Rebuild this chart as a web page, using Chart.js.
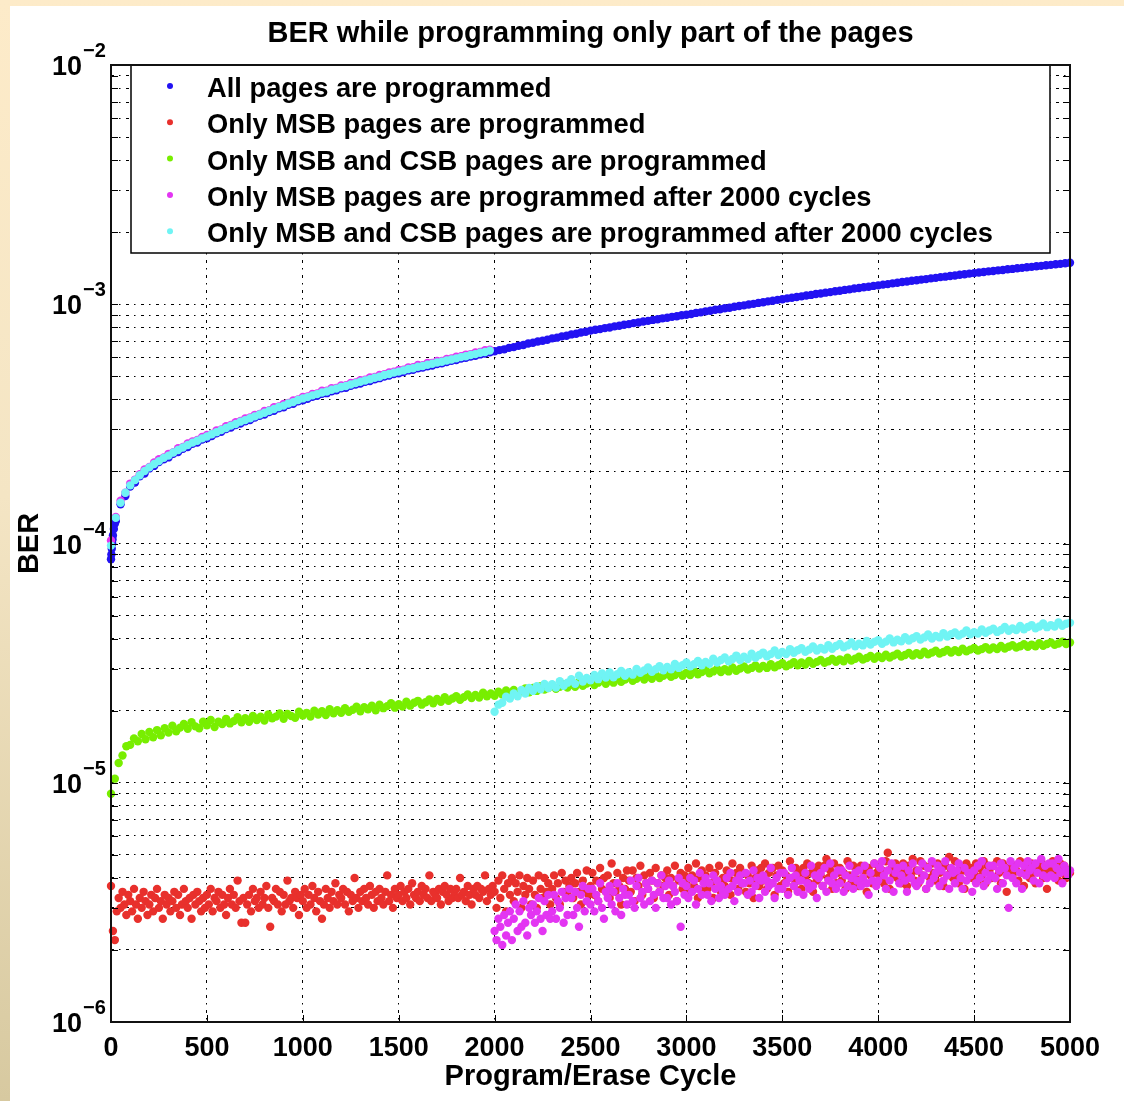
<!DOCTYPE html>
<html>
<head>
<meta charset="utf-8">
<script src="https://cdn.jsdelivr.net/npm/chart.js@4.4.1/dist/chart.umd.min.js"></script>
<style>
  html, body { margin: 0; padding: 0; }
  body {
    width: 1124px; height: 1101px; overflow: hidden;
    background: linear-gradient(to bottom, #fdebc9 0%, #f4e5c4 45%, #d7c9a0 100%);
  }
  canvas { display: block; }
</style>
</head>
<body>
<canvas id="ber" width="1124" height="1101"></canvas>
<script>
// ---- text ----
const TITLE = 'BER while programming only part of the pages';
const X_TITLE = 'Program/Erase Cycle';
const Y_TITLE = 'BER';
const SERIES_NAMES = [
  'All pages are programmed',
  'Only MSB pages are programmed',
  'Only MSB and CSB pages are programmed',
  'Only MSB pages are programmed after 2000 cycles',
  'Only MSB and CSB pages are programmed after 2000 cycles'
];

// ---- axes ----
const X_TICKS = [0, 500, 1000, 1500, 2000, 2500, 3000, 3500, 4000, 4500, 5000];
const Y_DECADES = [-6, -5, -4, -3, -2];

// ---- values ----
// BER values are stored in units of 1e-6 (PPM) or 1e-7 (TENTH_PPM)
const PPM = 1e-6;
const TENTH_PPM = 1e-7;

// All pages: first cycles, then every 25 cycles from 25 to 5000
const ALL_EARLY_CYCLES = [0, 2, 4, 6, 8, 10, 15, 20];
const ALL_EARLY_BER = [86, 90, 95, 100, 104, 108, 115, 121];
const ALL_BER = [
  124,146,158,173,180,191,196,206,211,219,
  225,229,237,241,249,253,261,264,272,275,
  281,289,293,301,305,313,317,324,328,336,
  342,346,354,359,367,371,380,384,393,397,
  403,410,414,422,425,433,437,445,448,456,
  462,466,474,478,486,491,499,503,511,515,
  521,529,532,540,544,551,555,563,566,574,
  580,584,593,597,605,609,617,622,630,636,
  643,648,657,662,671,676,685,690,699,704,
  711,720,725,734,739,748,753,762,767,776,
  782,787,795,800,808,813,821,826,834,839,
  847,852,860,865,873,878,886,891,899,904,
  911,920,925,934,939,948,953,962,967,976,
  983,989,998,1004,1013,1019,1028,1034,1043,1049,
  1058,1064,1073,1079,1088,1094,1103,1109,1118,1124,
  1133,1139,1148,1154,1163,1169,1178,1184,1193,1199,
  1208,1214,1223,1229,1238,1244,1253,1259,1268,1274,
  1283,1289,1298,1304,1313,1319,1328,1334,1343,1349,
  1358,1363,1372,1377,1386,1391,1400,1405,1414,1419,
  1428,1433,1442,1447,1456,1461,1470,1475,1484,1491
];

// Only MSB: every 10 cycles from 0 to 5000 (units of 1e-7)
const MSB_BER = [
  37,24,22,29,33,30,35,31,28,34, 32,29,36,31,27,33,30,35,32,28,
  31,34,29,33,36,30,32,27,34,31, 33,29,32,35,30,34,28,31,36,32,
  30,33,27,34,31,35,32,29,33,30, 34,31,36,29,33,32,35,30,34,31,
  28,33,36,31,34,30,39,32,26,33, 26,31,34,29,36,32,33,30,35,31,
  33,37,30,25,33,32,36,31,35,29, 34,31,39,32,33,30,35,33,28,34,
  32,36,30,34,31,37,33,29,35,32, 27,31,36,33,30,35,32,38,31,34,
  33,36,31,35,29,34,32,40,33,30, 35,32,36,33,31,37,34,30,35,32,
  36,33,31,35,41,32,34,30,36,33, 34,37,32,35,33,36,31,38,34,33,
  35,32,37,34,36,33,41,32,35,34, 33,36,31,35,37,34,32,36,33,35,
  36,33,40,34,35,32,37,34,31,36, 34,37,33,36,35,41,32,36,34,37,
  35,30,39,33,41,36,29,38,34,40, 32,38,35,41,30,37,34,40,36,31,
  39,34,30,41,36,33,40,35,38,31, 36,41,33,38,31,42,35,39,34,37,
  40,33,38,42,35,31,39,36,43,34, 37,42,34,39,32,44,36,40,35,41,
  33,46,38,35,42,37,31,40,36,43, 39,35,43,32,40,37,45,34,41,38,
  36,42,39,33,44,38,35,41,37,40, 43,34,40,37,45,32,39,42,36,41,
  38,44,35,41,37,46,33,40,43,36, 41,36,44,38,33,42,39,45,35,40,
  37,43,40,34,46,39,42,36,44,38, 42,35,41,38,45,33,40,43,37,44,
  39,46,36,42,38,44,34,41,45,37, 43,38,41,35,47,40,37,44,39,42,
  36,44,40,46,38,42,35,43,39,45, 41,37,45,48,40,43,36,46,38,42,
  44,39,42,36,47,41,38,45,40,43, 37,45,40,43,35,44,41,38,46,42,
  45,40,43,38,47,51,36,44,41,46, 40,44,38,46,42,37,45,41,48,39,
  43,38,47,41,45,36,44,40,46,42, 39,46,42,44,37,45,41,49,43,40,
  47,41,38,45,43,36,46,42,44,40, 42,46,39,44,41,47,38,45,43,40,
  45,40,47,42,38,46,43,35,44,41, 41,45,43,39,47,42,37,46,44,40,
  46,42,38,45,43,47,40,44,36,42, 43,47,41,44,39,46,42,45,40,43,
  42
];

// Only MSB and CSB: every 20 cycles from 0 to 5000 (units of 1e-6)
const MSB_CSB_BER = [
  9.0,10.4,12.1,13.0,14.2, 14.4,15.3,14.9,16.0,15.2,
  16.3,15.5,16.6,15.8,16.9, 16.2,17.3,16.4,17.0,17.6,
  16.8,17.9,17.2,16.9,18.0, 17.4,18.3,17.1,18.0,17.6,
  18.5,17.7,18.1,18.8,17.9, 18.6,18.0,19.0,18.3,18.9,
  18.2,19.3,18.6,18.9,19.5, 18.5,19.4,19.0,18.7,19.8,
  19.1,19.6,18.9,20.0,19.3, 19.9,19.2,20.3,19.5,20.1,
  19.6,20.5,19.8,20.2,20.8, 19.9,20.7,20.3,21.0,20.1,
  21.2,20.5,20.9,21.5,20.6, 21.3,20.8,21.8,21.0,21.6,
  22.0,21.2,21.7,22.3,21.5, 22.4,21.8,22.8,22.0,22.5,
  23.0,22.2,22.8,23.4,22.6, 23.3,22.7,23.8,23.0,23.6,
  23.1,24.0,23.4,24.3,23.6, 24.4,23.7,24.1,24.8,23.9,
  24.9,24.2,25.3,24.5,24.9, 25.5,24.7,25.2,25.8,25.0,
  25.7,25.2,26.3,25.4,26.0, 26.5,25.6,26.2,26.9,25.9,
  26.8,26.2,27.3,26.4,27.0, 27.6,26.7,27.2,27.9,27.0,
  27.8,27.2,28.3,27.4,28.0, 28.6,27.7,28.2,28.9,28.0,
  28.8,28.2,29.3,28.4,29.0, 29.6,28.7,29.2,29.9,29.0,
  29.8,29.2,30.3,29.4,30.0, 30.6,29.7,30.2,30.9,30.0,
  30.8,30.2,31.3,30.4,31.0, 31.6,30.7,31.2,31.9,31.0,
  31.8,31.2,32.3,31.4,32.0, 32.6,31.7,32.2,32.9,32.0,
  32.8,32.2,33.3,32.4,33.0, 33.6,32.7,33.2,33.9,33.0,
  33.8,33.2,34.3,33.4,34.0, 34.6,33.7,34.2,34.9,34.0,
  34.8,34.2,35.3,34.4,35.0, 35.6,34.7,35.2,35.9,35.0,
  35.8,35.2,36.3,35.4,36.0, 36.6,35.7,36.2,36.9,36.0,
  36.8,36.2,37.3,36.4,37.0, 37.6,36.7,37.2,37.9,37.0,
  37.8,37.2,38.3,37.4,38.0, 38.6,37.7,38.2,38.9,38.0,
  38.6
];

// Only MSB after 2000 cycles: every 25 cycles from 0 to 1975 (units of 1e-6)
const MSB_2000_EARLY = [
  103,129,151,163,178,185,195,204,209,218,
  225,229,237,241,250,253,262,267,271,279,
  284,287,297,300,309,313,321,325,333,336,
  345,348,358,361,371,374,383,387,396,400,
  410,412,422,424,435,435,446,447,458,459,
  469,471,481,484,494,497,506,510,519,522,
  531,533,544,545,557,556,568,569,580,580,
  591,593,603,606,616,619,629,632,642,645
];
// ... then every 10 cycles from 2000 to 5000 (units of 1e-7)
const MSB_2000_LATE = [
  24,22,27,25,21,28,23,26,29,22, 27,31,24,29,25,32,26,23,30,28,
  31,26,29,33,27,24,32,28,34,27, 29,34,27,32,30,35,26,33,28,36,
  33,28,35,30,25,34,37,29,32,36, 31,36,29,34,32,38,30,27,35,33,
  37,31,35,29,38,33,28,36,34,31, 34,39,32,30,37,40,33,35,31,38,
  36,32,39,34,30,38,35,41,33,37, 33,39,31,37,35,32,40,25,38,34,
  37,33,40,35,39,31,36,42,34,38, 40,34,38,32,41,36,39,33,37,35,
  34,40,36,42,37,32,39,35,41,38, 38,42,34,39,35,43,37,40,33,39,
  41,35,39,37,44,38,33,40,36,42, 36,42,38,34,40,44,37,41,35,39,
  39,34,42,38,36,45,37,41,33,40, 42,37,44,35,39,46,38,41,36,43,
  38,43,35,41,37,45,40,36,42,39, 43,37,40,45,38,34,42,39,46,37,
  39,44,47,41,36,43,39,46,35,42, 44,38,41,45,39,35,43,40,46,38,
  37,43,39,46,41,36,44,38,47,40, 42,45,37,43,39,47,41,36,44,42,
  38,43,46,40,36,44,39,42,41,35, 43,38,45,40,47,37,42,39,45,41,
  45,40,36,43,46,38,44,41,30,47, 40,44,38,46,42,36,45,41,47,43,
  44,39,46,42,38,48,41,45,40,46, 41,46,40,44,48,42,38,45,43,41,
  43
];

// Only MSB and CSB after 2000 cycles: every 25 cycles from 0 to 1975 (units of 1e-6)
const MSB_CSB_2000_EARLY = [
  98,128,148,163,175,184,193,201,208,215,
  221,228,233,240,246,252,258,264,269,275,
  280,286,292,298,304,311,316,323,328,334,
  340,346,352,359,365,372,377,385,390,398,
  404,409,416,421,428,432,439,444,451,455,
  462,468,474,480,486,493,498,506,511,518,
  523,529,536,540,548,552,559,564,571,575,
  582,588,594,601,606,614,619,627,632,640
];
// ... then every 20 cycles from 2000 to 5000 (units of 1e-6)
const MSB_CSB_2000_LATE = [
  19.8,21.2,21.6,22.9,22.5, 23.6,23.0,24.4,23.6,24.9,
  24.2,25.3,24.6,25.9,24.9, 25.8,25.0,26.6,25.4,26.2,
  27.1,25.9,28.0,26.5,27.4, 26.8,28.2,27.1,28.6,27.5,
  28.9,27.6,28.4,29.3,28.0, 29.0,28.3,29.9,28.8,29.5,
  30.3,29.1,29.8,30.7,29.5, 30.5,29.8,31.4,30.2,31.0,
  31.8,30.7,31.3,32.3,31.0, 32.0,31.4,33.0,31.8,32.6,
  33.4,32.2,32.9,34.0,32.6, 33.6,32.9,34.6,33.3,34.2,
  35.0,33.8,34.5,35.7,34.2, 35.2,34.5,36.2,34.9,35.8,
  36.5,35.3,36.0,37.1,35.7, 36.6,36.0,37.6,36.3,37.3,
  38.0,36.8,37.5,38.6,37.2, 38.1,37.5,39.1,37.8,38.8,
  39.4,38.1,38.9,40.1,38.6, 39.6,39.0,40.6,39.3,40.2,
  41.0,39.7,40.5,41.7,40.1, 41.1,40.5,42.2,40.8,41.8,
  42.5,41.2,42.0,43.3,41.7, 42.6,42.0,43.7,42.3,43.3,
  44.0,42.7,43.5,44.8,43.2, 44.1,43.5,45.2,43.8,44.8,
  45.6,44.2,45.0,46.3,44.7, 45.6,45.0,46.8,45.3,46.2,
  46.6
];

// ---- styles ----
const COLORS = ['#2212f2', '#e8302c', '#78ee00', '#e335f2', '#70f4f4'];
const FONT = '"Liberation Sans", Arial, Helvetica, sans-serif';
const TICK_FONT = 'bold 27px ' + FONT;
const LEGEND_FONT = 'bold 27.3px ' + FONT;
const LABEL_FONT = 'bold 29px ' + FONT;
const SUP_FONT = 'bold 20px ' + FONT;
const GRID_DASH = [3, 5, 1.5, 5.5];
const MARKER_RADIUS = 4.2;

// ---- helpers ----
function steps(from, to, step) {
  const out = [];
  for (let c = from; c <= to; c += step) out.push(c);
  return out;
}
function pairs(cycles, values, unit) {
  return values.map((v, i) => ({ x: cycles[i], y: v * unit }));
}

const Y_GRID = [];
for (let e = -6; e < -2; e++) {
  for (let m = 1; m <= 9; m++) Y_GRID.push(m * Math.pow(10, e));
}
Y_GRID.push(1e-2);

const datasets = [
  {
    label: SERIES_NAMES[0],
    data: pairs(ALL_EARLY_CYCLES.concat(steps(25, 5000, 25)), ALL_EARLY_BER.concat(ALL_BER), PPM),
    order: 5
  },
  { label: SERIES_NAMES[1], data: pairs(steps(0, 5000, 10), MSB_BER, TENTH_PPM), order: 4 },
  { label: SERIES_NAMES[2], data: pairs(steps(0, 5000, 20), MSB_CSB_BER, PPM), order: 3 },
  {
    label: SERIES_NAMES[3],
    data: pairs(steps(0, 1975, 25), MSB_2000_EARLY, PPM)
      .concat(pairs(steps(2000, 5000, 10), MSB_2000_LATE, TENTH_PPM)),
    order: 2
  },
  {
    label: SERIES_NAMES[4],
    data: pairs(steps(0, 1975, 25), MSB_CSB_2000_EARLY, PPM)
      .concat(pairs(steps(2000, 5000, 20), MSB_CSB_2000_LATE, PPM)),
    order: 1
  }
].map((ds, i) => Object.assign(ds, {
  backgroundColor: COLORS[i],
  borderColor: COLORS[i],
  pointRadius: MARKER_RADIUS,
  pointHoverRadius: MARKER_RADIUS,
  pointBorderWidth: 0,
  showLine: false,
  clip: false
}));

// Axes box, inward ticks, tick labels, titles and the boxed legend
const decorations = {
  id: 'decorations',
  beforeDraw(chart) {
    const { ctx } = chart;
    ctx.save();
    ctx.fillStyle = '#ffffff';
    ctx.fillRect(10, 6, chart.width - 10, chart.height - 6);
    ctx.restore();
  },
  afterDraw(chart) {
    const { ctx, chartArea: a, scales: { x, y } } = chart;
    ctx.save();

    // inward tick marks on all four sides
    ctx.strokeStyle = '#000';
    ctx.lineWidth = 1;
    ctx.beginPath();
    Y_GRID.forEach(v => {
      const py = Math.round(y.getPixelForValue(v)) + 0.5;
      ctx.moveTo(a.left, py); ctx.lineTo(a.left + 7, py);
      ctx.moveTo(a.right, py); ctx.lineTo(a.right - 7, py);
    });
    X_TICKS.forEach(v => {
      const px = Math.round(x.getPixelForValue(v)) + 0.5;
      ctx.moveTo(px, a.bottom); ctx.lineTo(px, a.bottom - 7);
      ctx.moveTo(px, a.top); ctx.lineTo(px, a.top + 7);
    });
    ctx.stroke();

    // legend box
    const lx = a.left + 20, ly = a.top, lw = 919, lh = 188;
    ctx.fillStyle = '#fff';
    ctx.fillRect(lx, ly, lw, lh);
    ctx.lineWidth = 1.5;
    ctx.strokeStyle = '#000';
    ctx.strokeRect(lx, ly, lw, lh);
    ctx.font = LEGEND_FONT;
    ctx.textAlign = 'left';
    ctx.textBaseline = 'alphabetic';
    chart.data.datasets.forEach((ds, i) => {
      const base = ly + 32 + i * 36.3;
      ctx.fillStyle = ds.backgroundColor;
      ctx.beginPath();
      ctx.arc(lx + 39, base - 11, 3, 0, Math.PI * 2);
      ctx.fill();
      ctx.fillStyle = '#000';
      ctx.fillText(ds.label, lx + 76, base);
    });

    // axes box
    ctx.lineWidth = 2;
    ctx.strokeStyle = '#111';
    ctx.strokeRect(a.left, a.top, a.right - a.left, a.bottom - a.top);

    // x tick labels
    ctx.fillStyle = '#000';
    ctx.font = TICK_FONT;
    ctx.textAlign = 'center';
    X_TICKS.forEach(v => ctx.fillText(String(v), x.getPixelForValue(v), a.bottom + 34));

    // y tick labels: 10 with a superscript exponent
    Y_DECADES.forEach(e => {
      const py = y.getPixelForValue(Math.pow(10, e));
      const base = py + 10;
      ctx.font = TICK_FONT;
      ctx.textAlign = 'right';
      ctx.fillText('10', a.left - 29, base);
      ctx.font = SUP_FONT;
      ctx.textAlign = 'left';
      ctx.fillText('\u2212' + Math.abs(e), a.left - 28, base - 18);
    });

    // titles
    const cx = (a.left + a.right) / 2;
    ctx.font = LABEL_FONT;
    ctx.textAlign = 'center';
    ctx.fillText(TITLE, cx, 42);
    ctx.fillText(X_TITLE, cx, a.bottom + 63);
    ctx.save();
    ctx.translate(38, (a.top + a.bottom) / 2);
    ctx.rotate(-Math.PI / 2);
    ctx.fillText(Y_TITLE, 0, 0);
    ctx.restore();

    ctx.restore();
  }
};

const gridStyle = { color: '#000', lineWidth: 1, drawTicks: false };

new Chart(document.getElementById('ber'), {
  type: 'scatter',
  data: { datasets },
  options: {
    responsive: false,
    animation: false,
    devicePixelRatio: 1,
    events: [],
    layout: { padding: { top: 65, right: 54, left: 0, bottom: 0 } },
    plugins: {
      legend: { display: false },
      tooltip: { enabled: false },
      title: { display: false }
    },
    scales: {
      x: {
        type: 'linear',
        min: 0,
        max: 5000,
        afterBuildTicks: s => { s.ticks = X_TICKS.map(v => ({ value: v })); },
        afterFit: s => { s.height = 79; },
        ticks: { display: false },
        grid: gridStyle,
        border: { display: false, dash: GRID_DASH }
      },
      y: {
        type: 'logarithmic',
        min: 1e-6,
        max: 1e-2,
        afterBuildTicks: s => { s.ticks = Y_GRID.map(v => ({ value: v })); },
        afterFit: s => { s.width = 111; },
        ticks: { display: false },
        grid: gridStyle,
        border: { display: false, dash: GRID_DASH }
      }
    }
  },
  plugins: [decorations]
});
</script>
</body>
</html>
